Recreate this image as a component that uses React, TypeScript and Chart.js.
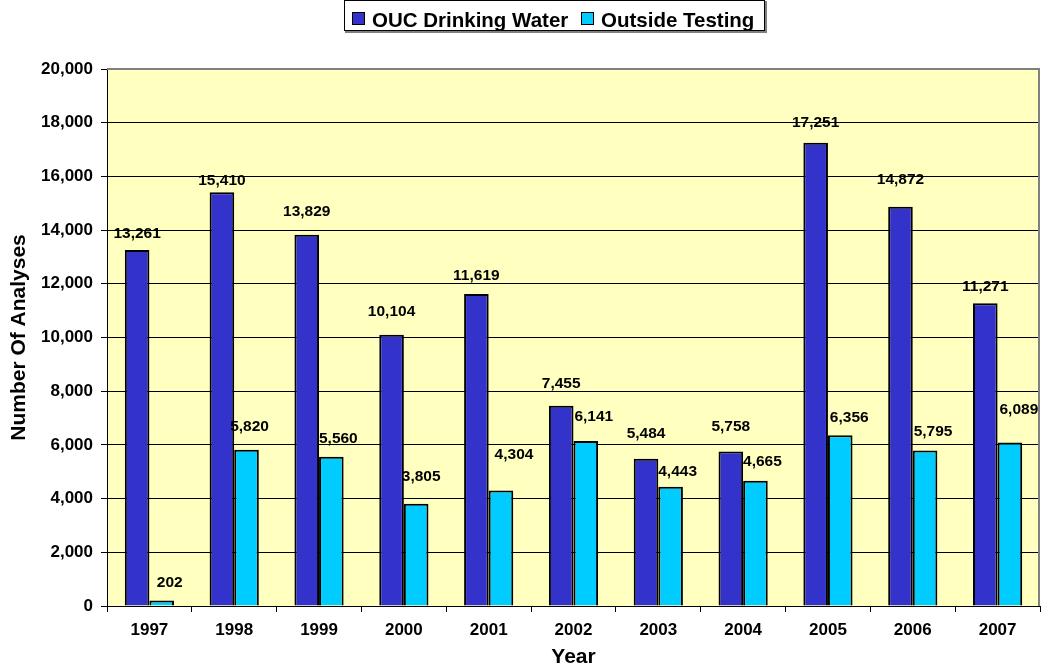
import React, { useEffect, useRef } from "react";
import { Chart, registerables } from "chart.js";

Chart.register(...registerables);

const years = ["1997", "1998", "1999", "2000", "2001", "2002", "2003", "2004", "2005", "2006", "2007"];
const oucDrinkingWater = [13261, 15410, 13829, 10104, 11619, 7455, 5484, 5758, 17251, 14872, 11271];
const outsideTesting = [202, 5820, 5560, 3805, 4304, 6141, 4443, 4665, 6356, 5795, 6089];
const yMax = 20000;
const yStep = 2000;

// label placement tweaks (pixels) as in the original, where labels were nudged by hand
const oucLabelGap = [16, 12, 23, 23, 18, 22, 25, 25, 20, 27, 17];
const outsideLabelGap = [18, 23, 18, 27, 36, 24, 15, 19, 18, 19, 33];
const outsideLabelShift = [8, 3, 7, 5, 13, 8, 7, 7, 9, 8, 9];

const FONT = "'Liberation Sans', Arial, sans-serif";
const BLUE = "#3333CC";
const CYAN = "#00CCFF";
const PLOT_BG = "#FFFFC0";

const fmt = (v: number) => v.toLocaleString("en-US");

const plotBgPlugin = {
  id: "plotBg",
  beforeDraw(chart: any) {
    const { ctx, chartArea: a } = chart;
    ctx.save();
    ctx.fillStyle = PLOT_BG;
    ctx.fillRect(a.left, a.top, a.right - a.left, a.bottom - a.top);
    ctx.restore();
  },
  afterDraw(chart: any) {
    const { ctx, chartArea: a } = chart;
    ctx.save();
    ctx.strokeStyle = "#808080";
    ctx.lineWidth = 2;
    ctx.beginPath();
    ctx.moveTo(a.left, a.top);
    ctx.lineTo(a.right - 1, a.top);
    ctx.lineTo(a.right - 1, a.bottom);
    ctx.stroke();
    ctx.restore();
  },
};

const dataLabelPlugin = {
  id: "dataLabels",
  afterDatasetsDraw(chart: any) {
    const { ctx } = chart;
    ctx.save();
    ctx.font = `bold 15.5px ${FONT}`;
    ctx.fillStyle = "#000";
    ctx.textAlign = "center";
    ctx.textBaseline = "middle";
    chart.data.datasets.forEach((ds: any, di: number) => {
      const meta = chart.getDatasetMeta(di);
      meta.data.forEach((bar: any, i: number) => {
        const gap = di === 0 ? oucLabelGap[i] : outsideLabelGap[i];
        const dx = di === 0 ? 0 : outsideLabelShift[i];
        ctx.fillText(fmt(ds.data[i]), bar.x + dx, bar.y - gap);
      });
    });
    ctx.restore();
  },
};

const legendPlugin = {
  id: "boxLegend",
  afterDraw(chart: any) {
    const { ctx } = chart;
    ctx.save();
    ctx.strokeStyle = "#808080";
    ctx.lineWidth = 2;
    ctx.beginPath();
    ctx.moveTo(766, 1);
    ctx.lineTo(766, 32);
    ctx.lineTo(345, 32);
    ctx.stroke();
    ctx.strokeStyle = "#000";
    ctx.lineWidth = 1;
    ctx.strokeRect(344.5, 0.5, 420, 30);
    ctx.font = `bold 20.5px ${FONT}`;
    ctx.textBaseline = "alphabetic";
    ctx.textAlign = "left";
    const items = [
      { label: chart.data.datasets[0].label, color: BLUE, x: 352 },
      { label: chart.data.datasets[1].label, color: CYAN, x: 581 },
    ];
    items.forEach((it) => {
      ctx.fillStyle = it.color;
      ctx.fillRect(it.x, 12, 13, 13);
      ctx.strokeStyle = "#000";
      ctx.lineWidth = 1;
      ctx.strokeRect(it.x + 0.5, 12.5, 12, 12);
      ctx.fillStyle = "#000";
      ctx.fillText(it.label, it.x + 20, 27);
    });
    ctx.restore();
  },
};

export default function App() {
  const ref = useRef<HTMLCanvasElement | null>(null);

  useEffect(() => {
    if (!ref.current) return;
    const chart = new Chart(ref.current, {
      type: "bar",
      data: {
        labels: years,
        datasets: [
          {
            label: "OUC Drinking Water",
            data: oucDrinkingWater,
            backgroundColor: BLUE,
            borderColor: "#000",
            borderWidth: 2,
            categoryPercentage: 0.58,
            barPercentage: 1,
          },
          {
            label: "Outside Testing",
            data: outsideTesting,
            backgroundColor: CYAN,
            borderColor: "#000",
            borderWidth: 2,
            categoryPercentage: 0.58,
            barPercentage: 1,
          },
        ],
      },
      options: {
        responsive: false,
        animation: false,
        layout: { padding: { top: 69, right: 1, left: 0, bottom: 0 } },
        plugins: {
          legend: { display: false },
          tooltip: { enabled: false },
        },
        scales: {
          x: {
            afterFit: (s: any) => {
              s.height = 64;
            },
            grid: {
              display: true,
              drawOnChartArea: false,
              drawTicks: true,
              tickLength: 6,
              color: "#000",
              offset: true,
            },
            border: { color: "#000", width: 1 },
            ticks: {
              color: "#000",
              font: { family: FONT, size: 17, weight: "bold" },
              padding: 8,
              maxRotation: 0,
            },
            title: {
              display: true,
              text: "Year",
              color: "#000",
              font: { family: FONT, size: 21, weight: "bold" },
              padding: { top: 0, bottom: 0 },
            },
          },
          y: {
            min: 0,
            max: yMax,
            afterFit: (s: any) => {
              s.width = 107;
            },
            grid: {
              color: "#000",
              lineWidth: 1,
              tickLength: 6,
            },
            border: { color: "#000", width: 1 },
            ticks: {
              stepSize: yStep,
              color: "#000",
              font: { family: FONT, size: 17, weight: "bold" },
              padding: 8,
              callback: (v: any) => fmt(Number(v)),
            },
            title: {
              display: true,
              text: "Number Of Analyses",
              color: "#000",
              font: { family: FONT, size: 21, weight: "bold" },
              padding: { top: 7, bottom: 0 },
            },
          },
        },
      },
      plugins: [plotBgPlugin, dataLabelPlugin, legendPlugin],
    });
    return () => chart.destroy();
  }, []);

  return (
    <div style={{ position: "fixed", left: 0, top: 0, width: 1041, height: 670, background: "#fff" }}>
      <canvas ref={ref} width={1041} height={670} />
    </div>
  );
}
